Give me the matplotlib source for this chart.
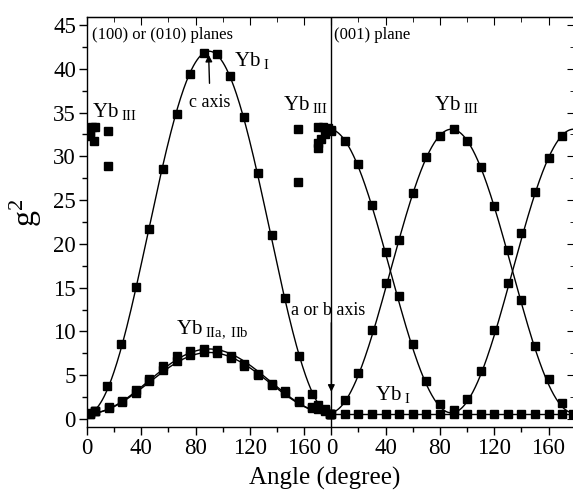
import numpy as np
import matplotlib
matplotlib.use("Agg")
import matplotlib.pyplot as plt
from matplotlib.ticker import FixedLocator, MultipleLocator

plt.rcParams['font.family'] = ['Liberation Serif', 'DejaVu Serif']
plt.rcParams['mathtext.fontset'] = 'custom'
plt.rcParams['mathtext.rm'] = 'Liberation Serif'
plt.rcParams['mathtext.it'] = 'Liberation Serif:italic'

# ---- left panel: (100) or (010) planes ----
ybI_ang = [2, 6, 15, 25, 36, 46, 56, 66, 76, 86, 96, 105, 116, 126, 136, 146, 156, 166, 175, 179]
ybI_g2 = [0.7, 0.95, 3.8, 8.6, 15.1, 21.7, 28.5, 34.8, 39.4, 41.8, 41.7, 39.2, 34.5, 28.1,
          21.0, 13.8, 7.2, 2.9, 1.2, 0.6]

ybII_ang = [2, 6, 16, 26, 36, 46, 56, 66, 76, 86, 96, 106, 116, 126, 136, 146, 156, 166, 170, 175, 179]
ybIIa_g2 = [0.6, 0.9, 1.4, 2.1, 3.3, 4.6, 6.0, 7.2, 7.8, 8.0, 7.9, 7.2, 6.3, 5.1, 4.0, 3.2,
            2.1, 1.4, 1.6, 1.0, 0.6]
ybIIb_g2 = [0.6, 0.9, 1.3, 2.0, 3.0, 4.3, 5.6, 6.6, 7.3, 7.6, 7.5, 7.0, 6.1, 5.0, 3.9, 3.0,
            2.0, 1.3, 1.2, 0.9, 0.6]

ybIII_left_ang = [3.5, 5.9, 2.2, 2.5, 5.4, 15.3, 15.3, 155.8, 155.8, 170.1, 173.8, 177.5,
                  179.5, 175.5, 172.6, 170.1, 170.0]
ybIII_left_g2 = [33.4, 33.4, 32.8, 32.3, 31.7, 32.9, 28.9, 33.1, 27.1, 33.4, 33.4, 33.2,
                 32.9, 32.6, 32.0, 31.5, 31.0]

# fit parameters (g2 at 0 deg, g2 at 90 deg)
fitI = (0.6, 42.0)
fitIIa = (0.6, 8.0)
fitIIb = (0.6, 7.6)

# ---- right panel: (001) plane ----
r_ang = [0, 10, 20, 30, 40, 50, 60, 70, 80, 90, 100, 110, 120, 130, 140, 150, 160, 170]
ybIII_a = [33.0, 31.8, 29.1, 24.4, 19.1, 14.0, 8.6, 4.3, 1.7, 1.0, 2.3, 5.5, 10.2, 15.5,
           21.2, 25.9, 29.8, 32.3]
ybIII_b = [0.6, 2.2, 5.3, 10.2, 15.5, 20.4, 25.8, 29.9, 32.3, 33.1, 31.8, 28.8, 24.3, 19.3,
           13.6, 8.3, 4.6, 1.8]
ybI_r_ang = [0, 10, 20, 30, 40, 50, 60, 70, 80, 90, 100, 110, 120, 130, 140, 150, 160, 170, 178]
ybI_r_g2 = [0.55] * len(ybI_r_ang)
fitIII = (0.7, 33.1, -1.5)  # low, high, phase (deg)

offset = 180  # right panel starts at 180 on the shared axis
tick_pos = [0, 40, 80, 120, 160, 180, 220, 260, 300, 340]
tick_lab = ['0', '40', '80', '120', '160', '0', '40', '80', '120', '160']
minor_pos = [20, 60, 100, 140, 200, 240, 280, 320]

fig = plt.figure(figsize=(5.73, 4.91), dpi=100)
ax = fig.add_axes([87 / 573, 1 - 427 / 491, 488 / 573, 410 / 491])

mk = dict(marker='s', ms=5.8, color='k', ls='none', zorder=3)

# left curves
th = np.linspace(0, 180, 400)
for lo, hi in (fitI, fitIIa, fitIIb):
    ax.plot(th, lo + (hi - lo) * np.sin(np.radians(th)) ** 2, color='k', lw=1)
ax.plot(ybI_ang, ybI_g2, **mk)
ax.plot(ybII_ang, ybIIa_g2, **mk)
ax.plot(ybII_ang, ybIIb_g2, **mk)
ax.plot(ybIII_left_ang, ybIII_left_g2, **mk)

# right curves
th2 = np.linspace(0, 180, 400)
lo, hi, ph = fitIII
ax.plot(th2 + offset, lo + (hi - lo) * np.cos(np.radians(th2 - ph)) ** 2, color='k', lw=1)
ax.plot(th2 + offset, lo + (hi - lo) * np.sin(np.radians(th2 - ph)) ** 2, color='k', lw=1)
ax.plot(np.array(ybI_r_ang) + offset, ybI_r_g2, color='k', lw=1, marker='s', ms=5.8, zorder=3)
ax.plot(np.array(r_ang) + offset, ybIII_a, **mk)
ax.plot(np.array(r_ang) + offset, ybIII_b, **mk)

ax.axvline(offset, color='k', lw=1)

ax.set_xlim(0, 359.5)
ax.set_ylim(-0.91, 45.91)
ax.xaxis.set_major_locator(FixedLocator(tick_pos))
ax.xaxis.set_minor_locator(FixedLocator(minor_pos))
ax.set_xticklabels(tick_lab)
ax.yaxis.set_major_locator(MultipleLocator(5))
ax.yaxis.set_minor_locator(MultipleLocator(2.5))
ax.tick_params(which='both', direction='out', labelsize=16.5, width=1, pad=2)
ax.tick_params(which='major', length=6)
ax.tick_params(which='minor', length=3.5)
for s in ax.spines.values():
    s.set_linewidth(1)

# top / right ticks point inward
sx = ax.secondary_xaxis('top')
sx.xaxis.set_major_locator(FixedLocator(tick_pos))
sx.xaxis.set_minor_locator(FixedLocator(minor_pos))
sx.tick_params(which='both', direction='in', labeltop=False)
sx.tick_params(which='major', length=6)
sx.tick_params(which='minor', length=3.5)
sy = ax.secondary_yaxis('right')
sy.yaxis.set_major_locator(MultipleLocator(5))
sy.yaxis.set_minor_locator(MultipleLocator(2.5))
sy.tick_params(which='both', direction='in', labelright=False)
sy.tick_params(which='major', length=6)
sy.tick_params(which='minor', length=3.5)

# annotations
ax.text(3.7, 43.9, '(100) or (010) planes', fontsize=12, va='center')
ax.text(182, 43.9, '(001) plane', fontsize=12, va='center')
ax.text(108, 40.3, r'Yb$_{\ \mathrm{I}}$', fontsize=15)
ax.text(3.7, 34.5, r'Yb$_{\ \mathrm{III}}$', fontsize=15)
ax.text(144.4, 35.3, r'Yb$_{\ \mathrm{III}}$', fontsize=15)
ax.text(255.3, 35.3, r'Yb$_{\ \mathrm{III}}$', fontsize=15)
ax.text(65.2, 9.8, r'Yb$_{\ \mathrm{IIa,\ IIb}}$', fontsize=15)
ax.text(212, 2.2, r'Yb$_{\ \mathrm{I}}$', fontsize=15)
ax.annotate('c axis', xy=(89.6, 41.6), xytext=(90.7, 36.1), fontsize=13,
            ha='center', va='center',
            arrowprops=dict(arrowstyle='-|>', color='k', lw=1, shrinkA=6, shrinkB=0,
                            mutation_scale=10))
ax.text(150.4, 11.9, 'a or b axis', fontsize=13)
ax.annotate('', xy=(180, 3.1), xytext=(180, 11.0),
            arrowprops=dict(arrowstyle='-|>', color='k', lw=1, shrinkA=0, shrinkB=0,
                            mutation_scale=10))

fig.text(26 / 573, 1 - 213 / 491, r'g$^2$', fontsize=23, rotation=90, ha='center', va='center')
fig.text(325 / 573, 1 - 478 / 491, 'Angle (degree)', fontsize=18, ha='center', va='center')

fig.savefig('out.png', dpi=100)
